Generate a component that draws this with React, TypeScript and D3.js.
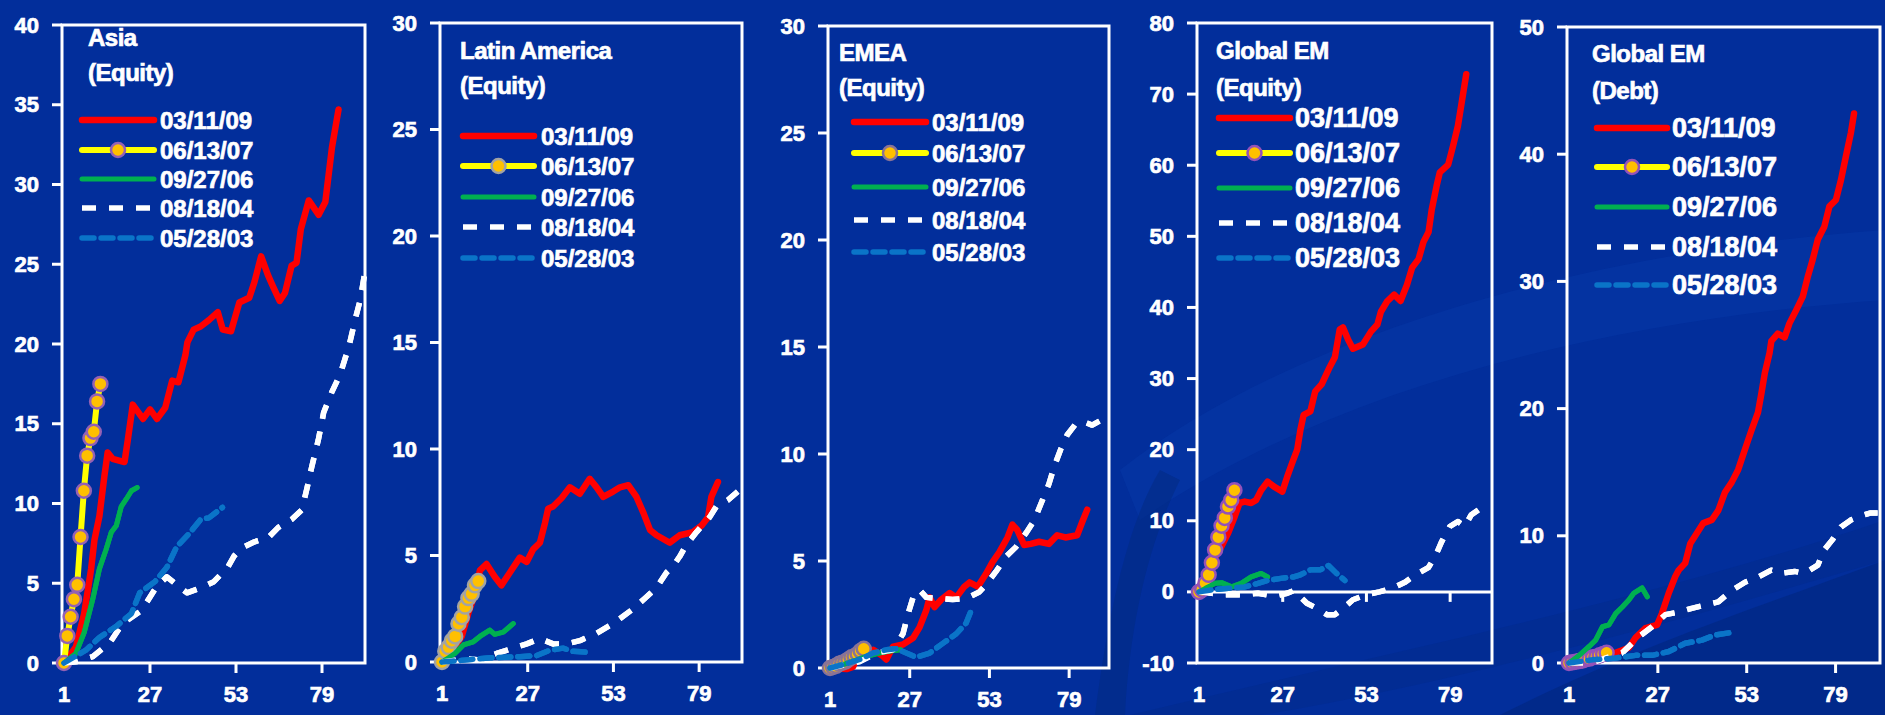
import React from 'react';
import * as d3 from 'd3';

type Pt = [number, number];

// ---- shared labels ----
const legendLabels = ['03/11/09', '06/13/07', '09/27/06', '08/18/04', '05/28/03'];
const xTickValues = [1, 27, 53, 79];
const xDomain: [number, number] = [1, 92];

// ---- Asia (Equity) ----
const asiaRally0911: Pt[] = [[1,0],[4.6,1.0],[7.1,3.1],[9.2,5.9],[10.2,7.7],[11.7,9.2],[13.2,11.7],[14.2,13.2],[15.7,12.8],[19.3,12.6],[20.3,14.0],[21.8,16.2],[24.9,15.3],[27,15.9],[29.1,15.3],[31.6,16.0],[33.7,17.7],[35.6,17.6],[37.7,19.3],[38.3,20.1],[40.2,20.9],[42.3,21.1],[44.8,21.5],[47.5,22.0],[49,20.9],[51.5,20.8],[54,22.6],[57,22.9],[58.6,23.9],[60.6,25.5],[62.7,24.3],[64.2,23.6],[66.2,22.7],[67.8,23.2],[69.8,24.9],[71.3,25.1],[72.6,27.2],[75,29.0],[78,28.1],[80,28.9],[82,32.3],[84,34.7]];
const asiaRally0706: number[] = [0, 1.7, 2.9, 4.0, 4.9, 7.9, 10.8, 13.0, 14.1, 14.5, 16.4, 17.5];
const asiaRally0609: Pt[] = [[1,0],[4.6,0.6],[7.1,1.9],[9.7,4.0],[11.7,5.9],[13.7,7.1],[15.3,8.2],[16.8,8.6],[18.3,9.8],[19.9,10.3],[21.4,10.8],[23.1,11.0]];
const asiaRally0408: Pt[] = [[1,0],[5,0.1],[9.7,0.4],[14.8,1.25],[18.8,2.5],[24.5,3.3],[29,4.8],[32.1,5.4],[35.1,4.9],[38.2,4.4],[42.3,4.7],[46.3,5.1],[50.5,6.0],[52.4,6.7],[54.5,7.2],[58.6,7.6],[62.7,7.85],[65.8,8.5],[69.8,9.0],[72.9,9.6],[74.4,10.9],[75.9,12.3],[77.9,14.0],[79.5,15.7],[82,17.0],[84.5,18.1],[87.2,19.9],[89.1,21.6],[90.6,22.8],[91.8,24.3]];
const asiaRally0305: Pt[] = [[1,0],[7.6,0.8],[11.7,1.6],[16.8,2.3],[21.4,3.1],[23.9,4.4],[28.5,5.1],[32.1,6.0],[35.1,7.3],[39.2,8.2],[42.3,9.0],[44.8,9.1],[48.9,9.75]];

// ---- Latin America (Equity) ----
const latamRally0911: Pt[] = [[1,0],[3.4,0.4],[7,1.2],[9,2.3],[11,3.2],[12.5,4.3],[14.5,4.6],[17,4.0],[19,3.6],[21.6,4.2],[24.6,4.9],[26.7,4.7],[28.7,5.3],[30.7,5.6],[32.2,6.5],[33.2,7.2],[34.7,7.3],[37.3,7.7],[39.8,8.2],[42.8,7.9],[45.8,8.6],[47.9,8.2],[49.9,7.75],[52.9,8.0],[55,8.2],[57.5,8.3],[60,7.75],[62.1,7.0],[64.1,6.2],[66.1,5.95],[70.1,5.6],[73.1,5.95],[77.1,6.1],[79.7,6.4],[81.7,6.8],[82.7,7.75],[84.7,8.45]];
const latamRally0706: number[] = [0, 0.5, 0.7, 1.0, 1.2, 1.8, 2.1, 2.6, 3.0, 3.2, 3.6, 3.8];
const latamRally0609: Pt[] = [[1,0],[4.9,0.4],[7.5,0.8],[10.5,0.95],[12.5,1.2],[15.5,1.5],[17,1.3],[19.6,1.4],[22.6,1.8]];
const latamRally0408: Pt[] = [[1,0],[8.5,0.15],[12.5,0.1],[17.6,0.4],[23.6,0.7],[26.7,0.85],[30.7,1.1],[34.7,0.85],[38.8,0.85],[42.8,1.0],[47.9,1.35],[52.9,1.8],[59,2.5],[63,3.05],[66.1,3.5],[69.1,4.2],[71.1,4.5],[73.1,4.95],[75.1,5.5],[78.2,6.1],[82.2,6.8],[84.2,7.3],[87.7,7.6],[90.7,8.0]];
const latamRally0305: Pt[] = [[1,0],[8.5,0.1],[15.5,0.2],[24.6,0.25],[29.7,0.3],[33.7,0.55],[37.7,0.65],[40.7,0.5],[46.4,0.45]];

// ---- EMEA (Equity) ----
const emeaRally0911: Pt[] = [[1,0],[6.4,-0.05],[8.5,0.05],[10.7,0.7],[15.1,0.85],[17.8,0.6],[19.4,0.4],[21.6,1.0],[24.8,1.1],[28.1,1.4],[30.2,1.9],[32.4,2.7],[33.5,3.3],[35.1,2.85],[37.3,3.2],[40,3.5],[42.2,3.3],[44.8,3.8],[46.5,4.0],[49.2,3.8],[51.9,4.4],[54,4.95],[56.2,5.4],[58.9,6.1],[60.5,6.7],[62.1,6.45],[64.3,5.75],[66.5,5.8],[69.2,5.9],[72.4,5.8],[75.1,6.2],[77.8,6.1],[81.6,6.2],[83.2,6.8],[84.9,7.4]];
const emeaRally0706: number[] = [0, 0.05, 0.1, 0.2, 0.25, 0.3, 0.4, 0.5, 0.55, 0.65, 0.8, 0.9];
const emeaRally0609: Pt[] = [[1,0],[5,0.15],[9,0.35],[13,0.55],[17,0.7],[21,0.8],[24,0.85]];
const emeaRally0408: Pt[] = [[1,0],[6,0.15],[10.7,0.3],[16.2,0.7],[21.6,0.85],[24.8,1.6],[26.5,2.55],[28.1,3.3],[30.2,3.65],[32.4,3.3],[36.7,3.25],[41,3.2],[45.4,3.25],[49.7,3.55],[51.9,3.9],[55.1,4.5],[58.4,5.2],[61.6,5.65],[64.9,6.3],[67.6,6.9],[70.3,7.85],[72.4,8.6],[74.1,9.4],[76.2,10.2],[78.4,10.9],[81.1,11.4],[83.8,11.5],[86.5,11.35],[89.7,11.6],[91.4,11.7]];
const emeaRally0305: Pt[] = [[1,0],[6.4,0.2],[10.7,0.4],[15.1,0.7],[19.4,0.85],[22.6,0.9],[25.9,0.7],[29.1,0.5],[33.5,0.7],[37.8,1.15],[42.2,1.6],[45.4,2.1],[47.5,2.85]];

// ---- Global EM (Equity) ----
const gemEqRally0911: Pt[] = [[1,0],[2.4,1.7],[5,4.1],[8,6.4],[10.1,8.3],[12.1,10.6],[13.6,12.5],[15.2,12.7],[17.2,12.5],[18.7,12.9],[20.3,14.3],[22.3,15.5],[24.3,14.8],[26.9,14.1],[28.4,16.2],[30,18.2],[31.5,20.0],[32.5,22.8],[33.5,24.9],[35.6,25.4],[37.1,28.2],[39.1,29.2],[41.7,31.7],[43.2,33.0],[44.7,36.9],[45.7,37.2],[47.3,35.5],[48.8,34.2],[51.9,34.8],[54.4,36.6],[56.4,37.6],[57.5,39.4],[59.5,40.9],[61.6,41.8],[63.6,40.9],[65.6,43.2],[67.2,45.6],[69.2,46.8],[70.7,49.2],[72.3,50.6],[73.3,53.8],[74.8,57.1],[75.8,59.0],[78.4,60.1],[79.9,62.7],[81.4,65.5],[82.4,68.3],[84,72.8]];
const gemEqRally0706: number[] = [0, 0.3, 1.2, 2.4, 4.1, 5.9, 7.7, 9.3, 10.4, 12.0, 12.9, 14.3];
const gemEqRally0609: Pt[] = [[1,0],[3,0.5],[6,1.2],[8,1.3],[11.1,0.7],[14.1,1.2],[17.2,2.1],[20.3,2.6],[22.3,2.1]];
const gemEqRally0408: Pt[] = [[1,0],[5,-0.2],[9.1,-0.4],[14.2,-0.4],[19.3,-0.2],[24.3,-0.6],[28.4,-0.2],[30.5,0.2],[34.5,-1.6],[37.6,-2.3],[40.7,-3.2],[43.2,-3.2],[45.8,-2.3],[48.8,-1.1],[52.9,-0.4],[57,0],[61,0.5],[65.1,1.4],[68.2,2.4],[72.2,3.4],[74.3,4.9],[76.3,7.0],[78.9,9.2],[81.4,9.9],[83.5,9.2],[85.5,10.8],[88.6,11.8],[91,12.1]];
const gemEqRally0305: Pt[] = [[1,0],[5,0.3],[10.1,0.5],[15.2,0.7],[19.3,1.2],[22.3,1.6],[26.4,1.9],[30.4,2.1],[32.5,2.4],[35.6,3.1],[38.6,3.1],[41.2,3.7],[43.7,2.6],[46.3,1.6]];

// ---- Global EM (Debt) ----
const gemDebtRally0911: Pt[] = [[1,0],[5.9,0.1],[11.8,0.5],[15.6,0.9],[18.5,1.2],[20.5,2.0],[23.4,2.75],[26.8,3.0],[28.2,3.9],[30.2,5.5],[32.1,6.8],[33.1,7.3],[35,7.85],[36.5,9.4],[38.4,10.2],[40.3,11.0],[42.8,11.25],[44.7,12.0],[46.6,13.4],[48.6,14.2],[50.5,15.2],[52.5,16.8],[54.4,18.3],[56.3,19.7],[57.3,21.2],[58.3,22.8],[59.7,24.4],[60.2,25.3],[62.1,25.9],[64.1,25.6],[65.5,26.7],[67.5,27.75],[69.4,28.8],[70.9,30.4],[72.3,31.7],[73.8,33.3],[75.7,34.3],[77.2,35.9],[79.1,36.4],[80.6,38.0],[82,39.8],[83.5,41.7],[84.4,43.2]];
const gemDebtRally0706: number[] = [0, 0.05, 0.1, 0.15, 0.2, 0.3, 0.35, 0.45, 0.5, 0.6, 0.7, 0.8];
const gemDebtRally0609: Pt[] = [[1,0],[4,0.6],[6.9,1.3],[8.8,1.8],[10.8,2.85],[12.7,3.0],[14.7,3.9],[16.6,4.4],[18.5,4.95],[20,5.5],[22.4,5.9],[23.9,5.2]];
const gemDebtRally0408: Pt[] = [[1,0],[7.9,0],[11.8,0.4],[16.6,0.8],[21.4,2.05],[25.3,2.85],[29.2,3.8],[33.1,4.0],[36.9,4.3],[40.8,4.55],[44.7,4.8],[48.6,5.7],[52.5,6.35],[56.3,6.75],[60.2,7.3],[63.1,7.05],[67,7.2],[69.9,7.05],[73.8,7.7],[75.7,8.9],[78.1,9.7],[80.6,10.7],[83.5,11.25],[86.9,11.6],[89.3,11.8],[91.3,11.8]];
const gemDebtRally0305: Pt[] = [[1,0],[7.9,0.25],[14.7,0.4],[20.5,0.6],[25.3,0.6],[30.2,0.9],[35,1.55],[39.9,1.8],[43.7,2.2],[48.5,2.4]];

// ---- styling ----
const BG = '#022E9B';
const FONT = '"Liberation Sans", Arial, sans-serif';
const TEXT_STROKE = 0.7;

type SeriesStyle = { color: string; width: number; dash?: string; cap: 'round' | 'butt' };
const seriesStyles: SeriesStyle[] = [
  { color: '#FF0000', width: 6.5, cap: 'round' },
  { color: '#FFFF00', width: 6, cap: 'round' },
  { color: '#00B050', width: 5, cap: 'round' },
  { color: '#FFFFFF', width: 5.5, dash: '14 13', cap: 'butt' },
  { color: '#0A74C8', width: 5.5, dash: '12 7', cap: 'round' },
];

type PanelSpec = {
  title: [string, string];
  left: number; right: number; top: number; bottom: number;
  yDomain: [number, number]; yStep: number;
  titleX: number; titleY: [number, number];
  legX0: number; legX1: number; legLabelX: number; legRows: number[]; legFont: number;
  outline: string;
  zeroAxis?: boolean;
  red: Pt[]; yellow: number[]; green: Pt[]; white: Pt[]; blue: Pt[];
};

const panels: PanelSpec[] = [
  { title: ['Asia', '(Equity)'], left: 62, right: 365, top: 25, bottom: 663, yDomain: [0, 40], yStep: 5,
    titleX: 88, titleY: [37, 72], legX0: 82, legX1: 154, legLabelX: 160, legRows: [120, 150, 179, 208, 238], legFont: 24,
    outline: '#9461B4', red: asiaRally0911, yellow: asiaRally0706, green: asiaRally0609, white: asiaRally0408, blue: asiaRally0305 },
  { title: ['Latin America', '(Equity)'], left: 440, right: 742, top: 23, bottom: 662, yDomain: [0, 30], yStep: 5,
    titleX: 460, titleY: [50, 85], legX0: 463, legX1: 534, legLabelX: 541, legRows: [136, 166, 197, 227, 258], legFont: 24,
    outline: '#A3A3A3', red: latamRally0911, yellow: latamRally0706, green: latamRally0609, white: latamRally0408, blue: latamRally0305 },
  { title: ['EMEA', '(Equity)'], left: 828, right: 1109, top: 26, bottom: 668, yDomain: [0, 30], yStep: 5,
    titleX: 839, titleY: [52, 87], legX0: 854, legX1: 926, legLabelX: 932, legRows: [122, 153, 187, 220, 252], legFont: 24,
    outline: '#8A7396', red: emeaRally0911, yellow: emeaRally0706, green: emeaRally0609, white: emeaRally0408, blue: emeaRally0305 },
  { title: ['Global EM', '(Equity)'], left: 1197, right: 1492, top: 23, bottom: 663, yDomain: [-10, 80], yStep: 10,
    titleX: 1216, titleY: [50, 87], legX0: 1219, legX1: 1290, legLabelX: 1295, legRows: [118, 153, 188, 223, 258], legFont: 27,
    outline: '#9452B8', zeroAxis: true,
    red: gemEqRally0911, yellow: gemEqRally0706, green: gemEqRally0609, white: gemEqRally0408, blue: gemEqRally0305 },
  { title: ['Global EM', '(Debt)'], left: 1567, right: 1880, top: 27, bottom: 663, yDomain: [0, 50], yStep: 10,
    titleX: 1592, titleY: [53, 90], legX0: 1597, legX1: 1667, legLabelX: 1672, legRows: [128, 167, 207, 247, 285], legFont: 27,
    outline: '#9452B8', red: gemDebtRally0911, yellow: gemDebtRally0706, green: gemDebtRally0609, white: gemDebtRally0408, blue: gemDebtRally0305 },
];

function Panel({ p }: { p: PanelSpec }) {
  const x = d3.scaleLinear().domain(xDomain).range([p.left + 2, p.right]);
  const y = d3.scaleLinear().domain(p.yDomain).range([p.bottom, p.top]);
  const line = d3.line<Pt>().x(d => x(d[0])).y(d => y(d[1])).curve(d3.curveLinear);
  const yellowPts: Pt[] = p.yellow.map((v, i) => [i + 1, v]);
  const yTicks = d3.range(p.yDomain[0], p.yDomain[1] + 0.001, p.yStep);
  const axisY = p.zeroAxis ? y(0) : p.bottom;
  const seriesData: Pt[][] = [p.red, yellowPts, p.green, p.white, p.blue];
  const textProps = {
    fill: '#FFFFFF', stroke: '#FFFFFF', strokeWidth: TEXT_STROKE, fontWeight: 'bold', fontFamily: FONT,
    dominantBaseline: 'central' as const,
  };

  return (
    <g>
      {/* plot frame */}
      <rect x={p.left} y={p.top} width={p.right - p.left} height={p.bottom - p.top}
        fill="none" stroke="#FFFFFF" strokeWidth={3} />
      {/* value axis */}
      {yTicks.map(t => (
        <g key={'y' + t}>
          <line x1={p.left - 10} x2={p.left} y1={y(t)} y2={y(t)} stroke="#FFFFFF" strokeWidth={3} />
          <text {...textProps} x={p.left - 23} y={y(t)} fontSize={22} textAnchor="end">{t}</text>
        </g>
      ))}
      {/* category axis */}
      {p.zeroAxis && (
        <line x1={p.left} x2={p.right} y1={axisY} y2={axisY} stroke="#FFFFFF" strokeWidth={3} />
      )}
      {xTickValues.map(t => (
        <g key={'x' + t}>
          {t !== 1 && (
            <line x1={x(t)} x2={x(t)} y1={axisY} y2={axisY + 10} stroke="#FFFFFF" strokeWidth={3} />
          )}
          <text {...textProps} x={x(t)} y={p.bottom + 31} fontSize={22} textAnchor="middle">{t}</text>
        </g>
      ))}
      {/* series, drawn in legend order */}
      {seriesData.map((data, i) => {
        const s = seriesStyles[i];
        return (
          <path key={'s' + i} d={line(data) || ''} fill="none" stroke={s.color} strokeWidth={s.width}
            strokeDasharray={s.dash} strokeLinecap={s.cap} strokeLinejoin="round" />
        );
      })}
      {yellowPts.map((d, i) => (
        <circle key={'m' + i} cx={x(d[0])} cy={y(d[1])} r={7} fill="#FFC000"
          stroke={p.outline} strokeWidth={2.5} />
      ))}
      {/* later series sit on top of the markers */}
      {[2, 3, 4].map(i => {
        const s = seriesStyles[i];
        return (
          <path key={'t' + i} d={line(seriesData[i]) || ''} fill="none" stroke={s.color} strokeWidth={s.width}
            strokeDasharray={s.dash} strokeLinecap={s.cap} strokeLinejoin="round" />
        );
      })}
      {/* title */}
      {p.title.map((t, i) => (
        <text key={'h' + i} {...textProps} x={p.titleX} y={p.titleY[i]} fontSize={24} letterSpacing={-0.5}>{t}</text>
      ))}
      {/* legend */}
      {legendLabels.map((lab, i) => {
        const s = seriesStyles[i];
        const ly = p.legRows[i];
        return (
          <g key={'l' + i}>
            <line x1={p.legX0} x2={p.legX1} y1={ly} y2={ly} stroke={s.color} strokeWidth={s.width}
              strokeDasharray={s.dash} strokeLinecap={s.cap} />
            {i === 1 && (
              <circle cx={(p.legX0 + p.legX1) / 2} cy={ly} r={7} fill="#FFC000" stroke={p.outline} strokeWidth={2.5} />
            )}
            <text {...textProps} x={p.legLabelX} y={ly} fontSize={p.legFont}>{lab}</text>
          </g>
        );
      })}
    </g>
  );
}

export default function App() {
  return (
    <svg width={1885} height={715} viewBox="0 0 1885 715"
      style={{ position: 'absolute', left: 0, top: 0, display: 'block' }}>
      <rect x={0} y={0} width={1885} height={715} fill={BG} />
      {/* faint background swooshes */}
      <path d="M1120,470 C1300,330 1600,250 1885,230 L1885,300 C1600,320 1330,390 1140,520 Z" fill="#0538A8" opacity={0.5} />
      <path d="M1500,715 C1650,640 1780,600 1885,560 L1885,715 Z" fill="#02277F" opacity={0.6} />
      <path d="M1130,715 C1400,650 1650,600 1885,520 L1885,560 C1650,630 1420,690 1260,715 Z" fill="#022A8C" opacity={0.5} />
      <path d="M1095,715 C1110,600 1130,520 1160,470 L1180,480 C1150,540 1130,620 1125,715 Z" fill="#02297F" opacity={0.5} />
      {panels.map((p, i) => <Panel key={i} p={p} />)}
    </svg>
  );
}
